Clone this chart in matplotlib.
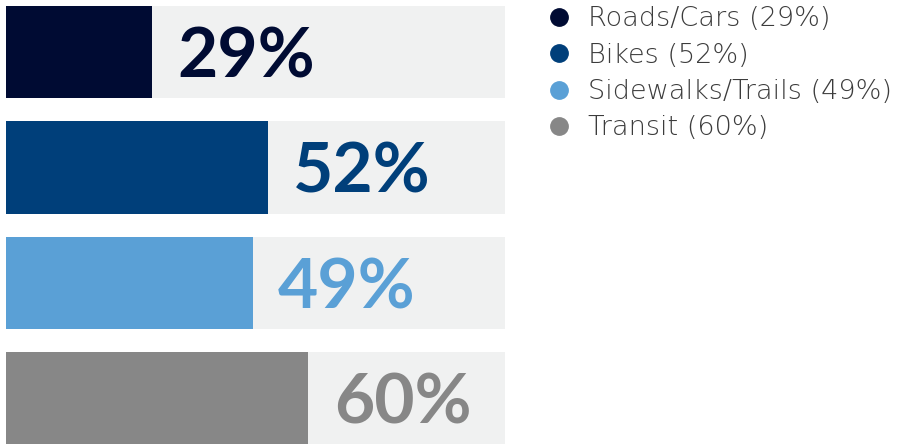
import matplotlib.pyplot as plt
from matplotlib.lines import Line2D

categories = ["Roads/Cars", "Bikes", "Sidewalks/Trails", "Transit"]
values = [29, 52, 49, 60]
colors = ["#000b33", "#003f7a", "#5aa0d6", "#878787"]
bg_color = "#f0f1f1"
track_max = 99

fig = plt.figure(figsize=(9, 4.44), dpi=100)
ax = fig.add_axes([6 / 900, 0, 499 / 900, 1])

pos = list(range(len(categories)))
ax.barh(pos, [track_max] * len(pos), height=0.8, color=bg_color)
ax.barh(pos, values, height=0.8, color=colors)

for i, v in enumerate(values):
    ax.text(v + 5.0, i + 0.05, f"{v}%", color=colors[i], fontsize=50, fontweight="bold",
            family="Lato", va="center", ha="left")

ax.set_xlim(0, track_max)
ax.set_ylim(3.394, -0.45)
ax.axis("off")

handles = [Line2D([], [], marker="o", linestyle="", markersize=12.5, color=c) for c in colors]
labels = [f"{c} ({v}%)" for c, v in zip(categories, values)]
fig.legend(handles, labels, loc="upper left", bbox_to_anchor=(543 / 900, 0.992),
           frameon=False, prop={"family": "DejaVu Sans", "size": 19.5, "weight": "light"},
           labelcolor="#3c3c3c", handletextpad=0.55, labelspacing=0.42,
           borderaxespad=0, handlelength=1.0, borderpad=0.1)

fig.savefig("out.png", dpi=100)
